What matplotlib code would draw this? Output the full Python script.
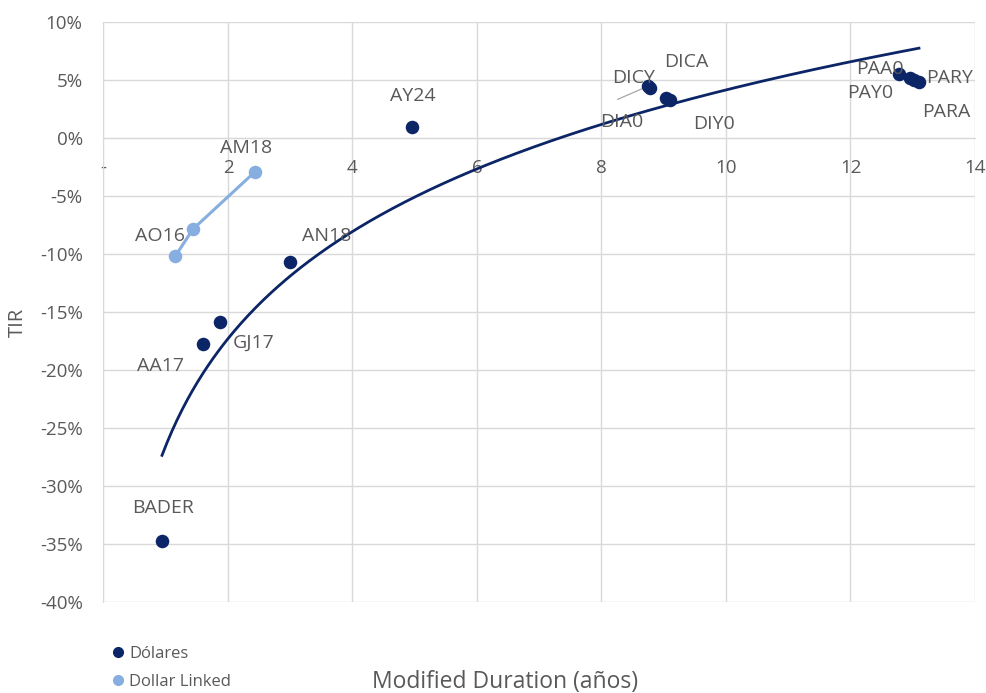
import numpy as np
import matplotlib
matplotlib.use("Agg")
import matplotlib.pyplot as plt
from matplotlib.lines import Line2D

plt.rcParams['font.family'] = ['Open Sans', 'DejaVu Sans']

# Dólares series
usd_names = ["BADER", "AA17", "GJ17", "AN18", "AY24", "DICY", "DICA", "DIA0", "DIY0",
             "PAA0", "PAY0", "PARY", "PARA"]
usd_dur = [0.94, 1.60, 1.87, 3.00, 4.95, 8.74, 8.78, 9.03, 9.10, 12.78, 12.95, 13.02, 13.10]
usd_tir = [-34.7, -17.8, -15.9, -10.7, 0.95, 4.45, 4.35, 3.45, 3.25, 5.55, 5.2, 5.0, 4.8]

# Dollar Linked series
dl_names = ["", "AO16", "AM18"]
dl_dur = [1.15, 1.44, 2.43]
dl_tir = [-10.2, -7.84, -2.93]

# label offsets in pixels (dx, dy)
usd_off = [(1, 33), (-43, -22), (34, -20), (36, 26), (1, 31), (-14, 8), (36, 26),
           (-44, -24), (44, -24), (-19, 5), (-39, -15), (36, 2), (27, -30)]
dl_off = [(0, 0), (-33, -7), (-9, 24)]

yticks = [10, 5, 0, -5, -10, -15, -20, -25, -30, -35, -40]
xticks = [0, 2, 4, 6, 8, 10, 12, 14]
xticklabels = ["-", "2", "4", "6", "8", "10", "12", "14"]

navy = "#0b2566"
light = "#86aee0"
grid = "#d9d9d9"
txt = "#595959"

fig = plt.figure(figsize=(9.87, 6.93), dpi=100)
ax = fig.add_axes([103.5 / 987, 1 - 602 / 693, (975 - 103.5) / 987, (602 - 22) / 693])

ax.set_xlim(0, 14)
ax.set_ylim(-40, 10)

ax.set_yticks(yticks)
ax.set_yticklabels([f"{v}%" for v in yticks])
ax.set_xticks(xticks)
ax.set_xticklabels(xticklabels)
ax.grid(True, color=grid, linewidth=1.0)
ax.set_axisbelow(True)
for s in ['top', 'right']:
    ax.spines[s].set_visible(False)
ax.spines['left'].set_color(grid)
ax.spines['bottom'].set_color(grid)
ax.spines['bottom'].set_position(('data', 0))
ax.tick_params(axis='both', length=0, labelsize=13.5, labelcolor=txt)
ax.tick_params(axis='x', pad=15)
ax.tick_params(axis='y', pad=15)

# log trendline for Dólares
lx = np.log(np.array(usd_dur))
b, a = np.polyfit(lx, np.array(usd_tir), 1)
xs = np.linspace(min(usd_dur), max(usd_dur), 300)
ax.plot(xs, a + b * np.log(xs), color=navy, linewidth=2.0, zorder=3)

# dollar linked line
ax.plot(dl_dur, dl_tir, color=light, linewidth=2.2, zorder=3)
ax.scatter(dl_dur, dl_tir, s=95, color=light, zorder=4, linewidths=0)
ax.scatter(usd_dur, usd_tir, s=95, color=navy, zorder=5, linewidths=0)

# leader line
ax.annotate("", xy=(usd_dur[5], usd_tir[5]), xytext=(-30, -13), textcoords='offset pixels',
            arrowprops=dict(arrowstyle='-', color='#a6a6a6', lw=0.9, shrinkA=0, shrinkB=4))

for n, x, y, (dx, dy) in zip(usd_names, usd_dur, usd_tir, usd_off):
    ax.annotate(n, (x, y), xytext=(dx, dy), textcoords='offset pixels', ha='center', va='center',
                fontsize=14, color=txt, zorder=6)
for n, x, y, (dx, dy) in zip(dl_names, dl_dur, dl_tir, dl_off):
    if n:
        ax.annotate(n, (x, y), xytext=(dx, dy), textcoords='offset pixels', ha='center', va='center',
                    fontsize=14, color=txt, zorder=6)

fig.text(18 / 987, 1 - 322 / 693, "TIR", rotation=90, ha='center', va='center', fontsize=14.5, color=txt)
fig.text(505 / 987, 1 - 682 / 693, "Modified Duration (años)", ha='center', va='center', fontsize=16.5, color=txt)

handles = [Line2D([], [], marker='o', linestyle='none', color=navy, markersize=7),
           Line2D([], [], marker='o', linestyle='none', color=light, markersize=7)]
fig.legend(handles, ["Dólares", "Dollar Linked"], loc='upper left', bbox_to_anchor=(110 / 987, 1 - 646 / 693),
           frameon=False, fontsize=12, labelcolor=txt, handletextpad=0.15, handlelength=1.0,
           labelspacing=0.72, borderpad=0, borderaxespad=0)

fig.savefig("out.png", dpi=100)
